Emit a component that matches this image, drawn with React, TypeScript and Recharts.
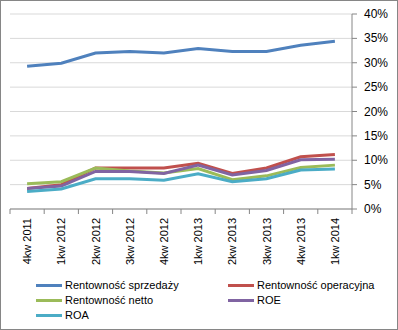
import React from 'react';
import { LineChart, Line, XAxis, YAxis, CartesianGrid, Legend } from 'recharts';

const quarters = ['4kw 2011', '1kw 2012', '2kw 2012', '3kw 2012', '4kw 2012', '1kw 2013', '2kw 2013', '3kw 2013', '4kw 2013', '1kw 2014'];
const sprzedazy = [29.3, 29.9, 32.0, 32.3, 32.0, 32.9, 32.3, 32.3, 33.6, 34.4];
const operacyjna = [4.2, 5.0, 8.4, 8.4, 8.4, 9.4, 7.3, 8.4, 10.7, 11.2];
const netto = [5.2, 5.6, 8.4, 7.8, 7.4, 8.3, 6.0, 6.8, 8.5, 9.0];
const roe = [4.2, 4.7, 7.7, 7.7, 7.3, 9.0, 7.0, 7.9, 10.1, 10.2];
const roa = [3.6, 4.1, 6.2, 6.2, 5.9, 7.2, 5.6, 6.2, 8.0, 8.2];
const yTicks = [0, 5, 10, 15, 20, 25, 30, 35, 40];

const series = [
  { key: 'sprzedazy', name: 'Rentowność sprzedaży', color: '#4F81BD' },
  { key: 'operacyjna', name: 'Rentowność operacyjna', color: '#C0504D' },
  { key: 'netto', name: 'Rentowność netto', color: '#9BBB59' },
  { key: 'roe', name: 'ROE', color: '#8064A2' },
  { key: 'roa', name: 'ROA', color: '#4BACC6' },
];

const data = quarters.map((q, i) => ({
  q,
  sprzedazy: sprzedazy[i],
  operacyjna: operacyjna[i],
  netto: netto[i],
  roe: roe[i],
  roa: roa[i],
}));

const FONT = '"Liberation Sans", Arial, sans-serif';
const W = 398;
const H = 330;
const PLOT_LEFT = 10;
const PLOT_RIGHT = 352;
const BAND = (PLOT_RIGHT - PLOT_LEFT) / quarters.length;

// kreski osi X na granicach kategorii, etykiety obrócone
const XTick = (props: any) => {
  const { x, y, payload, index } = props;
  const axisY = y - 8;
  return (
    <g>
      <line x1={x - BAND / 2} x2={x - BAND / 2} y1={axisY} y2={axisY + 5} stroke="#868686" />
      {index === quarters.length - 1 && (
        <line x1={x + BAND / 2} x2={x + BAND / 2} y1={axisY} y2={axisY + 5} stroke="#868686" />
      )}
      <text
        x={0}
        y={0}
        transform={`translate(${x},${axisY + 9}) rotate(-90)`}
        textAnchor="end"
        dominantBaseline="central"
        fontSize={11}
        fontFamily={FONT}
        fill="#000"
      >
        {payload.value}
      </text>
    </g>
  );
};

const YTick = (props: any) => {
  const { x, y, payload } = props;
  return (
    <text x={x + 5} y={y} dominantBaseline="central" fontSize={12} fontFamily={FONT} fill="#000">
      {`${payload.value}%`}
    </text>
  );
};

const LegendBox = () => (
  <div style={{ position: 'relative', width: W, height: 59, fontFamily: FONT, fontSize: 11, color: '#000' }}>
    {series.map((s, i) => {
      const col = i % 2;
      const row = Math.floor(i / 2);
      return (
        <div
          key={s.key}
          style={{ position: 'absolute', left: col === 0 ? 35 : 227, top: 9 + row * 15, display: 'flex', alignItems: 'center', whiteSpace: 'nowrap' }}
        >
          <span style={{ display: 'inline-block', width: 26, height: 3, background: s.color, marginRight: 3 }} />
          <span>{s.name}</span>
        </div>
      );
    })}
  </div>
);

export default function App() {
  return (
    <div style={{ position: 'absolute', left: 0, top: 0, width: W, height: H, background: '#fff', boxSizing: 'border-box', border: '1px solid #868686' }}>
      <LineChart
        width={W - 2}
        height={H - 2}
        data={data}
        margin={{ top: 13, right: 0, left: PLOT_LEFT - 1, bottom: 0 }}
      >
        <CartesianGrid vertical={false} stroke="#d9d9d9" />
        <XAxis
          dataKey="q"
          interval={0}
          height={61}
          padding={{ left: BAND / 2, right: BAND / 2 }}
          axisLine={{ stroke: '#868686' }}
          tickLine={false}
          tick={<XTick />}
        />
        <YAxis
          orientation="right"
          width={W - PLOT_RIGHT - 1}
          domain={[0, 40]}
          ticks={yTicks}
          axisLine={{ stroke: '#868686' }}
          tickLine={{ stroke: '#868686' }}
          tickSize={5}
          tick={<YTick />}
        />
        <Legend verticalAlign="bottom" content={<LegendBox />} wrapperStyle={{ left: 0, height: 59 }} />
        {series.map((s) => (
          <Line
            key={s.key}
            type="linear"
            dataKey={s.key}
            name={s.name}
            stroke={s.color}
            strokeWidth={3}
            dot={false}
            isAnimationActive={false}
          />
        ))}
      </LineChart>
    </div>
  );
}
